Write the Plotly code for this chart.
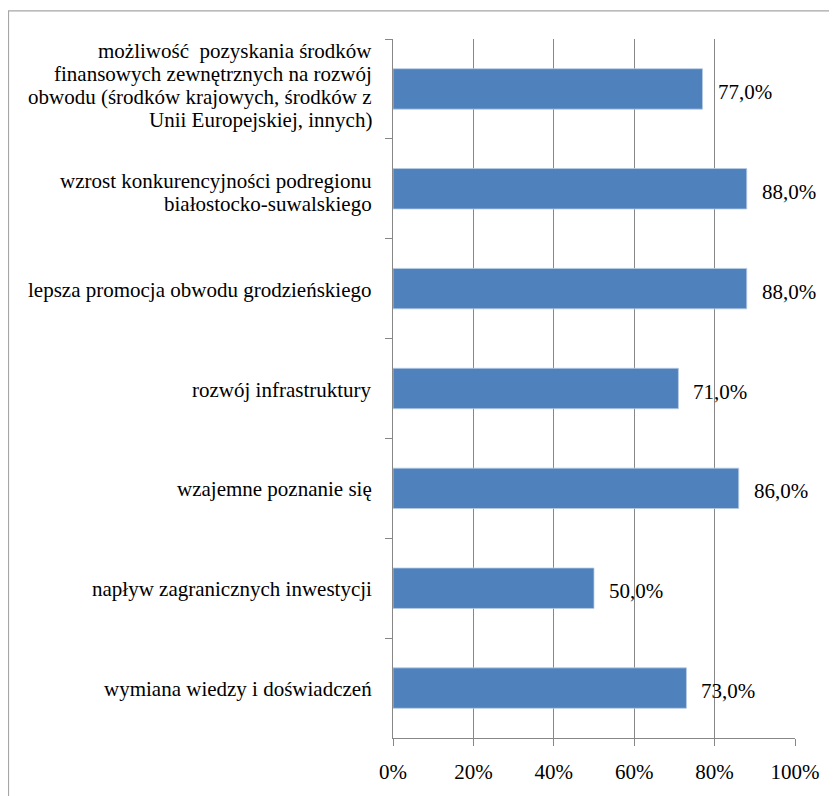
import plotly.graph_objects as go

categories = [
    "możliwość  pozyskania środków<br>finansowych zewnętrznych na rozwój<br>obwodu (środków krajowych, środków z<br>Unii Europejskiej, innych)",
    "wzrost konkurencyjności podregionu<br>białostocko-suwalskiego",
    "lepsza promocja obwodu grodzieńskiego",
    "rozwój infrastruktury",
    "wzajemne poznanie się",
    "napływ zagranicznych inwestycji",
    "wymiana wiedzy i doświadczeń",
]
values = [77.0, 88.0, 88.0, 71.0, 86.0, 50.0, 73.0]
x_ticks = [0, 20, 40, 60, 80, 100]
x_tick_labels = ["0%", "20%", "40%", "60%", "80%", "100%"]

# the page body has an 8px margin, so figure pixel = page pixel - 8
OFF = 8
W, H = 837 - OFF, 796 - OFF
ML, MT = 393 - OFF, 39 - OFF
MR = W - (795 - OFF)
MB = H - (748 - OFF)
PW, PH = W - ML - MR, H - MT - MB

def px2paper_x(px):
    return (px - OFF - ML) / PW

def px2paper_y(py):
    return 1 - (py - OFF - MT) / PH

FONT = "Liberation Serif, Times New Roman, serif"
GRID = "#878787"
FS = 21
LINE = 23
# vertical nudge of the category label block, by number of lines
BLOCK_SHIFT = {1: -1, 2: -4, 4: 3}

fig = go.Figure()
fig.add_trace(go.Bar(
    y=categories, x=values, orientation="h",
    marker=dict(color="#4F81BD", line=dict(color="#B9CDE5", width=0.8)),
    width=0.405, hoverinfo="skip",
))

annotations = []
for c, v in zip(categories, values):
    annotations.append(dict(
        x=v, y=c, xref="x", yref="y", text=f"{v:.1f}%".replace(".", ","),
        showarrow=False, xanchor="left", yanchor="middle", xshift=13, yshift=-3,
        font=dict(family=FONT, size=FS, color="#000000"),
    ))
    lines = c.split("<br>")
    n = len(lines)
    for i, ln in enumerate(lines):
        annotations.append(dict(
            x=px2paper_x(374), y=c, xref="paper", yref="y", text=ln,
            showarrow=False, xanchor="right", yanchor="middle", align="center",
            yshift=((n - 1) / 2 - i) * LINE + BLOCK_SHIFT.get(n, 0),
            font=dict(family=FONT, size=FS, color="#000000"),
        ))

fig.update_layout(
    width=W, height=H,
    margin=dict(l=ML, r=MR, t=MT, b=MB, pad=0),
    paper_bgcolor="white", plot_bgcolor="white",
    showlegend=False,
    annotations=annotations,
    shapes=[dict(
        type="rect", xref="paper", yref="paper",
        x0=px2paper_x(8.5), x1=px2paper_x(880), y0=px2paper_y(850), y1=px2paper_y(10.5),
        line=dict(color="#A6A6A6", width=1.2), fillcolor="rgba(0,0,0,0)", layer="below",
    )],
    xaxis=dict(
        range=[0, 100], tickvals=x_ticks, ticktext=x_tick_labels,
        showgrid=True, gridcolor=GRID, gridwidth=1.3,
        showline=True, linecolor=GRID, linewidth=1.3,
        ticks="outside", ticklen=7, tickcolor=GRID, tickwidth=1.3,
        ticklabelstandoff=8,
        tickfont=dict(family=FONT, size=FS, color="#000000"),
        zeroline=False, fixedrange=True,
    ),
    yaxis=dict(
        type="category", categoryorder="array", categoryarray=categories,
        autorange="reversed",
        showticklabels=False, tickson="boundaries",
        ticks="outside", ticklen=7, tickcolor=GRID, tickwidth=1.3,
        showline=True, linecolor=GRID, linewidth=1.3,
        showgrid=False, zeroline=False, fixedrange=True,
    ),
)

fig.write_html("out.html")
